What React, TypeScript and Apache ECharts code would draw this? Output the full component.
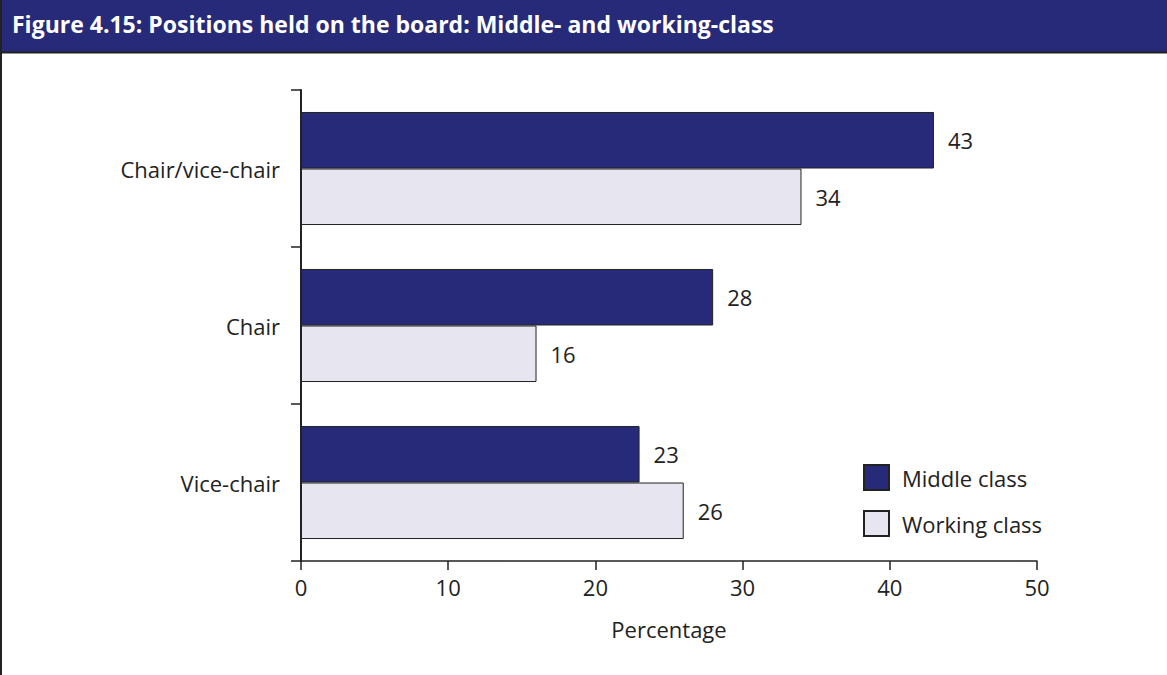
import React, { useEffect, useRef } from "react";
import * as echarts from "echarts";

const categories = ["Chair/vice-chair", "Chair", "Vice-chair"];
const middleClass = [43, 28, 23];
const workingClass = [34, 16, 26];
const seriesNames = ["Middle class", "Working class"];
const titleText = "Figure 4.15: Positions held on the board: Middle- and working-class";
const xAxisName = "Percentage";

const FONT = "'Open Sans', 'Noto Sans', sans-serif";

export default function App() {
  const ref = useRef<HTMLDivElement>(null);
  useEffect(() => {
    document.body.style.margin = "0";
    const chart = echarts.init(ref.current!, undefined, { renderer: "svg" });
    chart.setOption({
      animation: false,
      backgroundColor: "#ffffff",
      textStyle: { fontFamily: FONT },
      graphic: [
        { type: "rect", shape: { x: 0, y: 0, width: 1167, height: 52 }, style: { fill: "#262A78" }, z: 0 },
        { type: "line", shape: { x1: 0, y1: 52.5, x2: 1167, y2: 52.5 }, style: { stroke: "#222", lineWidth: 2 } },
        { type: "line", shape: { x1: 1, y1: 0, x2: 1, y2: 675 }, style: { stroke: "#222", lineWidth: 2 } },
        {
          type: "text",
          x: 12,
          y: 24,
          style: { text: titleText, fill: "#ffffff", font: `bold 23px ${FONT}`, textVerticalAlign: "middle" },
        },
      ],
      legend: {
        orient: "vertical",
        left: 863,
        top: 464,
        padding: 0,
        itemWidth: 25,
        itemHeight: 25,
        itemGap: 19,
        icon: "rect",
        textStyle: { fontSize: 22, lineHeight: 25, color: "#222", fontFamily: FONT, padding: [0, 0, 0, 8] },
        data: seriesNames,
      },
      grid: { left: 301, right: 130, top: 90, bottom: 114, containLabel: false },
      xAxis: {
        type: "value",
        min: 0,
        max: 50,
        interval: 10,
        name: xAxisName,
        nameLocation: "middle",
        nameGap: 57,
        nameTextStyle: { fontSize: 22, color: "#222", fontFamily: FONT },
        axisLine: { show: true, lineStyle: { color: "#222", width: 1.5 } },
        axisTick: { show: true, length: 9, lineStyle: { color: "#222", width: 1.5 } },
        axisLabel: { fontSize: 22, color: "#222", margin: 15, fontFamily: FONT },
        splitLine: { show: false },
      },
      yAxis: {
        type: "category",
        data: categories,
        inverse: true,
        axisLine: { show: true, lineStyle: { color: "#222", width: 2 } },
        axisTick: { show: true, length: 10, lineStyle: { color: "#222", width: 1.5 } },
        axisLabel: { fontSize: 22, color: "#222", margin: 21, fontFamily: FONT },
      },
      series: [
        {
          name: seriesNames[0],
          type: "bar",
          data: middleClass,
          barGap: "0%",
          barCategoryGap: "28%",
          itemStyle: { color: "#262A78", borderColor: "#222", borderWidth: 1 },
          label: { show: true, position: "right", distance: 14, fontSize: 22, color: "#222", fontFamily: FONT },
        },
        {
          name: seriesNames[1],
          type: "bar",
          data: workingClass,
          barGap: "0%",
          barCategoryGap: "28%",
          itemStyle: { color: "#E6E5F0", borderColor: "#222", borderWidth: 1 },
          label: { show: true, position: "right", distance: 14, fontSize: 22, color: "#222", fontFamily: FONT },
        },
      ],
    });
    return () => chart.dispose();
  }, []);
  return <div ref={ref} style={{ width: 1167, height: 675 }} />;
}
